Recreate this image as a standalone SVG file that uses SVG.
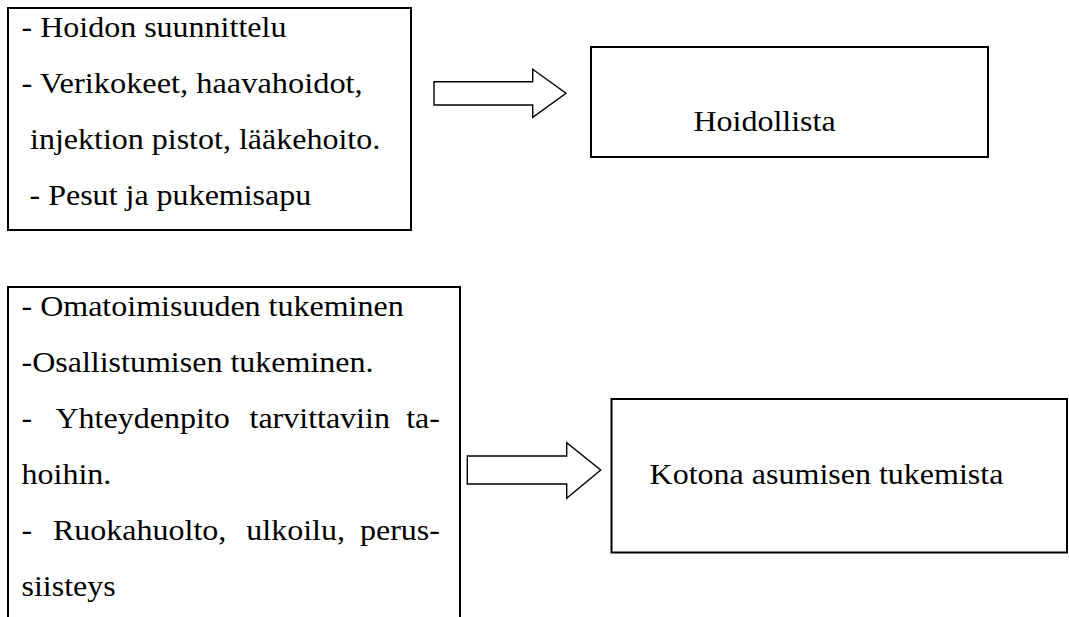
<svg xmlns="http://www.w3.org/2000/svg" width="1069" height="617" viewBox="0 0 1069 617">
<style>
.box { fill: #ffffff; stroke: #000000; stroke-width: 2; }
.arrow { fill: #ffffff; stroke: #000000; stroke-width: 1.4; stroke-linejoin: miter; }
.t { font-family: "Liberation Serif", "Times New Roman", serif; font-size: 29px; fill: #000000; }
</style>
<rect x="0" y="0" width="1069" height="617" fill="#ffffff"/>
<g id="node-tasks-care">
  <rect class="box" x="8" y="8" width="403" height="222"/>
  <text class="t" x="21.5" y="37" textLength="264.9" lengthAdjust="spacingAndGlyphs">- Hoidon suunnittelu</text>
  <text class="t" x="21.5" y="93" textLength="341.2" lengthAdjust="spacingAndGlyphs">- Verikokeet, haavahoidot,</text>
  <text class="t" x="30" y="149" textLength="350.2" lengthAdjust="spacingAndGlyphs">injektion pistot, lääkehoito.</text>
  <text class="t" x="29.5" y="205" textLength="281.8" lengthAdjust="spacingAndGlyphs">- Pesut ja pukemisapu</text>
</g>
<g id="node-hoidollista">
  <rect class="box" x="591" y="47" width="397" height="110"/>
  <text class="t" x="693.4" y="131" textLength="142.2" lengthAdjust="spacingAndGlyphs">Hoidollista</text>
</g>
<g id="node-tasks-home">
  <rect class="box" x="8" y="287" width="452" height="400"/>
  <text class="t" x="21.5" y="316" textLength="382.2" lengthAdjust="spacingAndGlyphs">- Omatoimisuuden tukeminen</text>
  <text class="t" x="21.5" y="372" textLength="352" lengthAdjust="spacingAndGlyphs">-Osallistumisen tukeminen.</text>
  <text class="t" x="21.5" y="428" textLength="10.7" lengthAdjust="spacingAndGlyphs">-</text>
  <text class="t" x="55.5" y="428" textLength="174.2" lengthAdjust="spacingAndGlyphs">Yhteydenpito</text>
  <text class="t" x="249.5" y="428" textLength="140.4" lengthAdjust="spacingAndGlyphs">tarvittaviin</text>
  <text class="t" x="440" y="428" text-anchor="end" textLength="33.8" lengthAdjust="spacingAndGlyphs">ta-</text>
  <text class="t" x="21.5" y="484" textLength="89.8" lengthAdjust="spacingAndGlyphs">hoihin.</text>
  <text class="t" x="21.5" y="540" textLength="10.7" lengthAdjust="spacingAndGlyphs">-</text>
  <text class="t" x="53" y="540" textLength="173.3" lengthAdjust="spacingAndGlyphs">Ruokahuolto,</text>
  <text class="t" x="246.3" y="540" textLength="98.7" lengthAdjust="spacingAndGlyphs">ulkoilu,</text>
  <text class="t" x="440" y="540" text-anchor="end" textLength="80" lengthAdjust="spacingAndGlyphs">perus-</text>
  <text class="t" x="21.5" y="596" textLength="94.2" lengthAdjust="spacingAndGlyphs">siisteys</text>
</g>
<g id="node-kotona">
  <rect class="box" x="611.5" y="399" width="455.5" height="153.5"/>
  <text class="t" x="649.6" y="484" textLength="353.8" lengthAdjust="spacingAndGlyphs">Kotona asumisen tukemista</text>
</g>
<g id="connectors">
  <polygon class="arrow" points="434,81.7 532.7,81.7 532.7,69.3 566,93.3 532.7,117.3 532.7,105 434,105"/>
  <polygon class="arrow" points="467.3,456 566.7,456 566.7,442.7 600.7,470 566.7,498.3 566.7,484 467.3,484"/>
</g>
</svg>
